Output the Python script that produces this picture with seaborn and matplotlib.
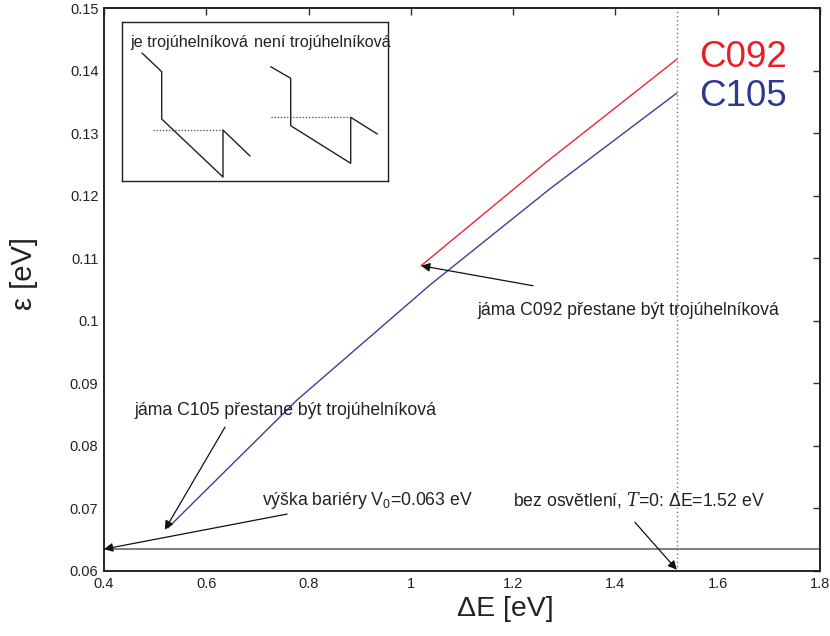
import matplotlib
matplotlib.use("Agg")
import matplotlib.pyplot as plt
import seaborn as sns
import pandas as pd
from matplotlib.ticker import FuncFormatter

# Ground-state energy eps vs. band offset dE for two samples
delta_e_c105 = [0.525, 0.777, 1.037, 1.272, 1.52]
eps_c105 = [0.0669, 0.0873, 0.1057, 0.1211, 0.1364]
delta_e_c092 = [1.020, 1.264, 1.52]
eps_c092 = [0.1088, 0.1253, 0.1418]

samples = ["C092", "C105"]
colors = {"C092": "#ED2633", "C105": "#3A3F9C"}
label_colors = {"C092": "#ED1C24", "C105": "#2B3990"}

barrier_v0 = 0.0635
dark_delta_e = 1.52

x_ticks = [0.4, 0.6, 0.8, 1.0, 1.2, 1.4, 1.6, 1.8]
y_ticks = [0.06, 0.07, 0.08, 0.09, 0.10, 0.11, 0.12, 0.13, 0.14, 0.15]

sns.set_theme(style="white")
plt.rcParams["font.family"] = ["Liberation Sans", "DejaVu Sans"]
plt.rcParams["mathtext.fontset"] = "custom"
plt.rcParams["mathtext.rm"] = "Liberation Sans"
plt.rcParams["mathtext.it"] = "Liberation Sans:italic"
plt.rcParams["mathtext.cal"] = "DejaVu Serif:italic"

df = pd.concat([
    pd.DataFrame({"dE": delta_e_c092, "eps": eps_c092, "sample": "C092"}),
    pd.DataFrame({"dE": delta_e_c105, "eps": eps_c105, "sample": "C105"}),
])

fig = plt.figure(figsize=(8.3, 6.36), dpi=100)
ax = fig.add_axes([104 / 830, 1 - 571 / 636, 716 / 830, 563 / 636])

sns.lineplot(data=df, x="dE", y="eps", hue="sample", palette=colors,
             estimator=None, sort=False, linewidth=1.0, legend=False, ax=ax)

ax.axhline(barrier_v0, color="#7f7f7f", lw=1.4, zorder=1)
ax.axvline(dark_delta_e, color="#777777", lw=1.0, ls=(0, (1, 2)), zorder=1)

ax.set_xlim(0.4, 1.8)
ax.set_ylim(0.06, 0.15)
ax.set_xticks(x_ticks)
ax.set_yticks(y_ticks)
fmt = FuncFormatter(lambda v, p: f"{v:g}")
ax.xaxis.set_major_formatter(fmt)
ax.yaxis.set_major_formatter(fmt)
ax.tick_params(direction="in", length=5, width=1.0, color="#333333",
               top=True, right=True, labelsize=10.5, labelcolor="#222222", pad=4)
for s in ax.spines.values():
    s.set_color("#222222")
    s.set_linewidth(1.4)

ax.set_xlabel("ΔE [eV]", fontsize=20.5, color="#222222", labelpad=3)
ax.xaxis.set_label_coords(0.56, -0.045, transform=ax.transAxes)
ax.xaxis.label.set_va("top")
ax.set_ylabel("ε [eV]", fontsize=21, color="#222222")
ax.yaxis.set_label_coords(-0.092, 0.529, transform=ax.transAxes)

# sample labels
ax.text(1.563, 0.1421, "C092", color=label_colors["C092"], fontsize=26.5, va="center", ha="left")
ax.text(1.563, 0.1359, "C105", color=label_colors["C105"], fontsize=26.5, va="center", ha="left")

arrow = dict(arrowstyle="-|>", color="#111111", lw=0.9, mutation_scale=13,
             shrinkA=0, shrinkB=0)
txt = dict(fontsize=12.7, color="#222222", va="center", ha="left")

ax.annotate("", xy=(delta_e_c092[0], eps_c092[0]), xytext=(1.239, 0.1056), arrowprops=arrow)
ax.text(1.131, 0.1017, "jáma C092 přestane být trojúhelníková", **txt)

ax.annotate("", xy=(0.519, 0.0666), xytext=(0.6366, 0.0830), arrowprops=arrow)
ax.text(0.459, 0.0856, "jáma C105 přestane být trojúhelníková", **txt)

ax.annotate("", xy=(0.40, barrier_v0), xytext=(0.758, 0.0691), arrowprops=arrow)
ax.text(0.709, 0.0713, "výška bariéry V$_{\\mathregular{0}}$=0.063 eV", **txt)

ax.annotate("", xy=(dark_delta_e, 0.0602), xytext=(1.438, 0.0678), arrowprops=arrow)
ax.text(1.200, 0.0713, "bez osvětlení, $\\mathcal{T}$=0: ΔE=1.52 eV", **txt)

# schematic inset: triangular vs. non-triangular well
ins = fig.add_axes([122 / 830, 1 - 181 / 636, 266 / 830, 159 / 636])
ins.set_xlim(0, 266)
ins.set_ylim(159, 0)
ins.set_xticks([])
ins.set_yticks([])
for s in ins.spines.values():
    s.set_color("#222222")
    s.set_linewidth(1.0)
ins.set_facecolor("white")

left_x = [20, 39.7, 39.7, 101, 101, 128]
left_y = [31, 49.7, 97, 155, 108, 134]
right_x = [148.7, 168.7, 168.7, 228.7, 228.7, 255.3]
right_y = [44.7, 56.3, 103.7, 141.3, 95.3, 112]
ins.plot(left_x, left_y, color="#222222", lw=1.0)
ins.plot(right_x, right_y, color="#222222", lw=1.0)
ins.plot([30.7, 101], [108, 108], color="#444444", lw=0.9, ls=(0, (1, 1.5)))
ins.plot([148.7, 228.7], [95.3, 95.3], color="#444444", lw=0.9, ls=(0, (1, 1.5)))
ins.text(8, 20, "je trojúhelníková", fontsize=11.6, color="#222222", va="center", ha="left")
ins.text(132, 20, "není trojúhelníková", fontsize=11.6, color="#222222", va="center", ha="left")

fig.savefig("out.png", dpi=100)
